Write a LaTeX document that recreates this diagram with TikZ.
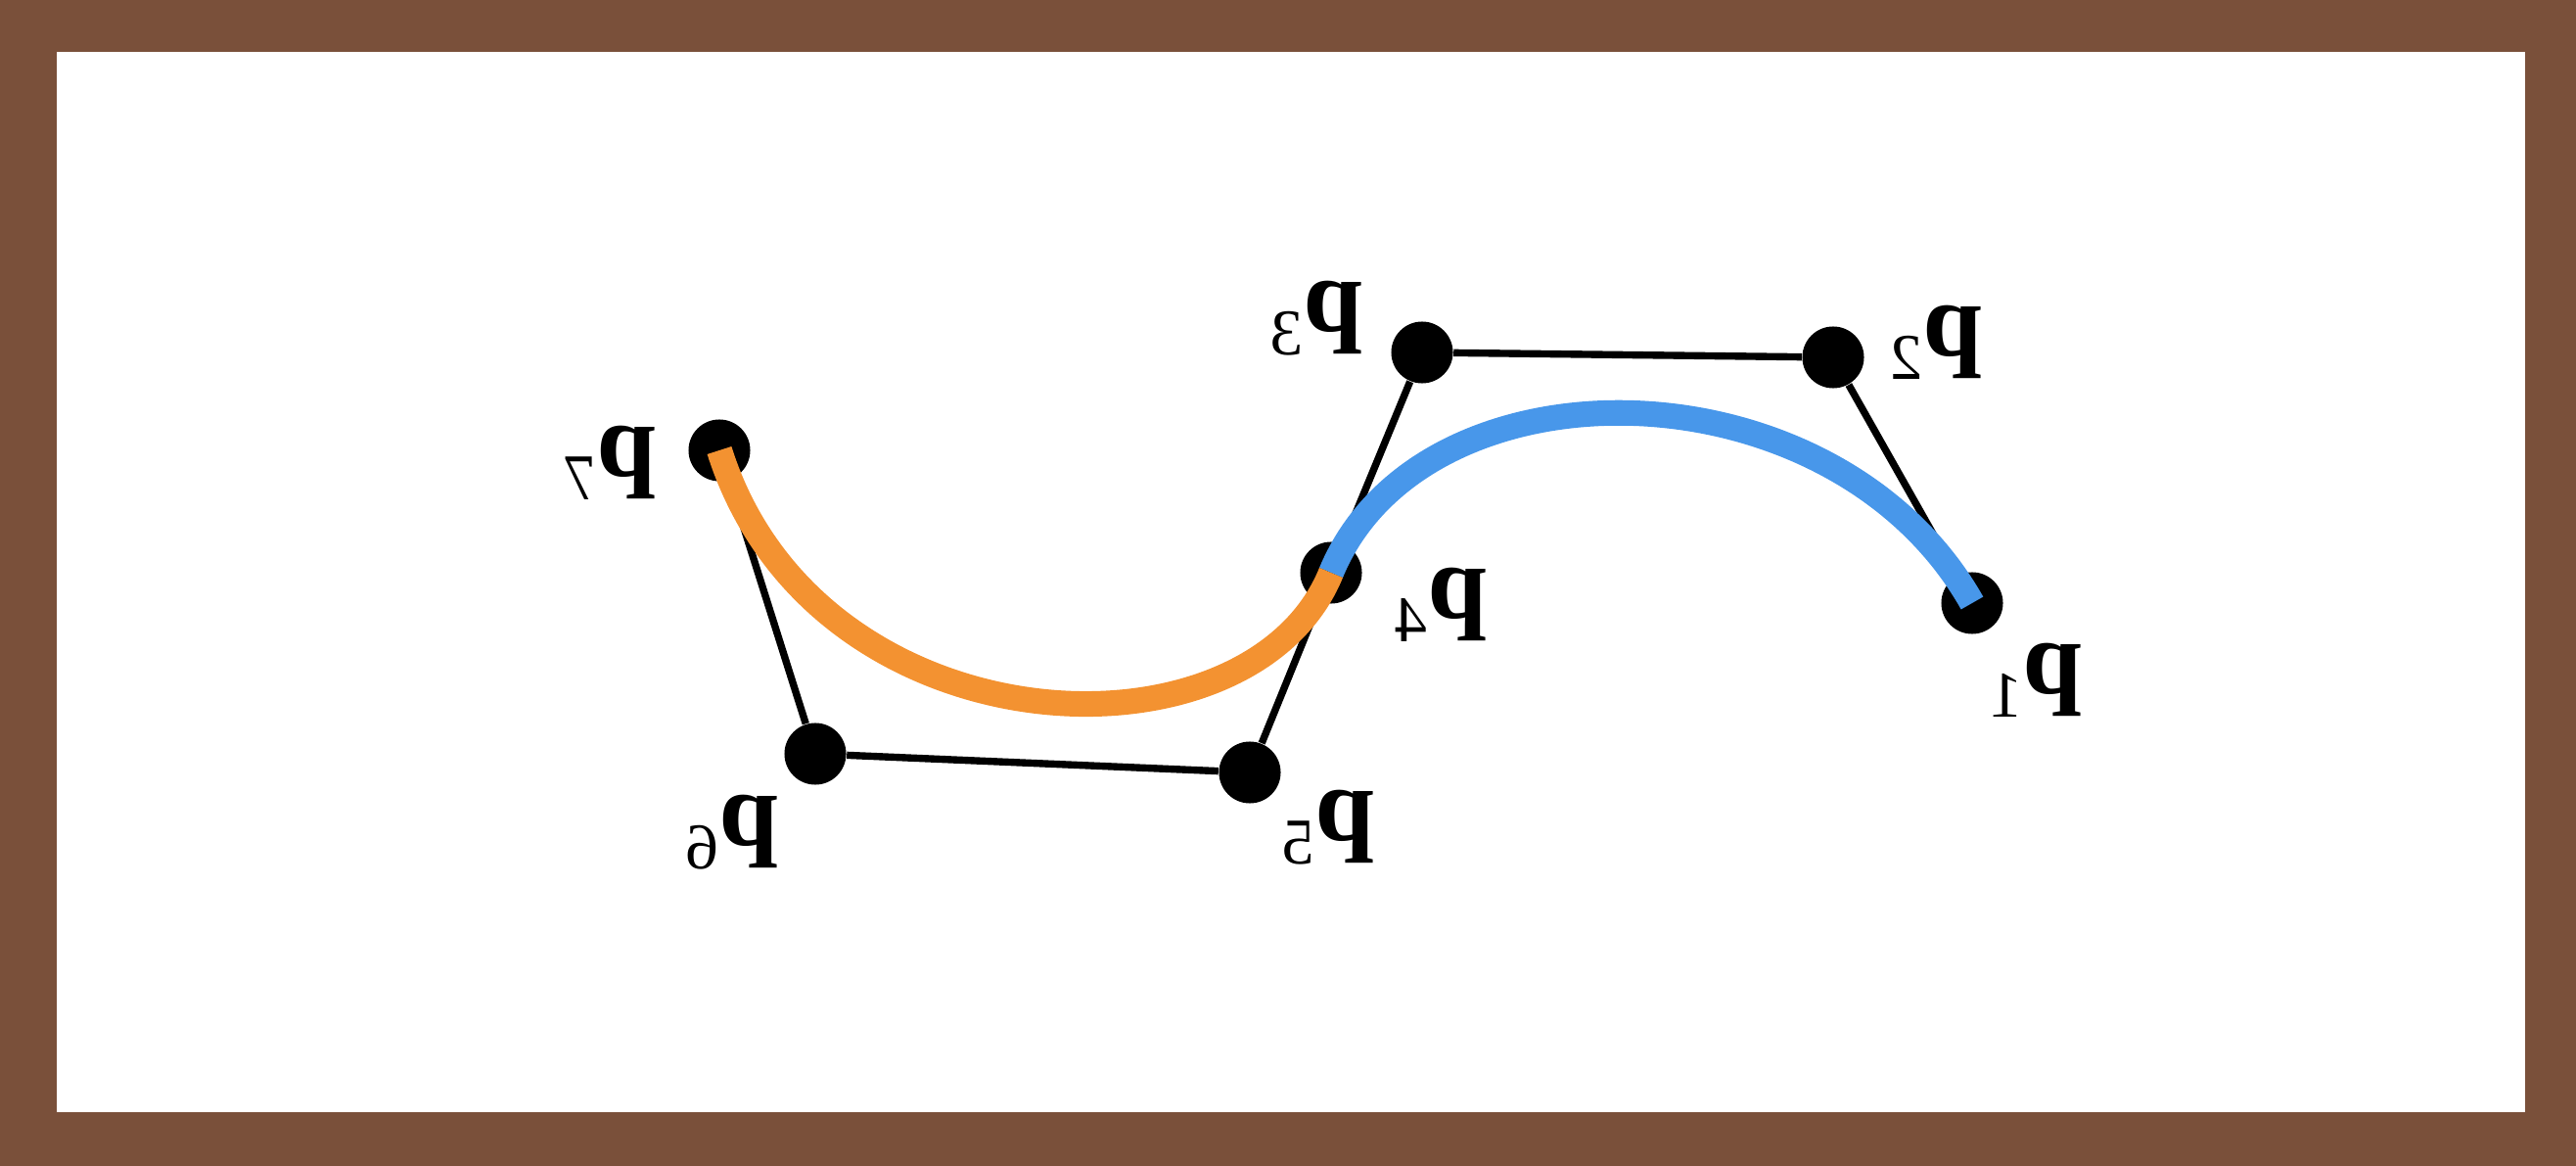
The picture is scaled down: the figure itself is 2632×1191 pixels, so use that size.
\documentclass[tikz,border=0pt]{standalone}
\usepackage{graphicx}
\usepackage{fontspec}
\setmainfont{Liberation Serif}
\definecolor{framebrown}{HTML}{7A503A}
\definecolor{curveblue}{HTML}{4897EA}
\definecolor{curveorange}{HTML}{F39231}
\newcommand{\plabel}[1]{\reflectbox{\fontsize{31}{36}\selectfont\bfseries p\raisebox{-7pt}{\fontsize{19}{19}\selectfont\mdseries #1}}}
\begin{document}
\begin{tikzpicture}[x=0.01cm,y=-0.01cm,
  dot/.style={circle,fill=black,inner sep=0pt,minimum size=0.63cm},
  poly/.style={draw=black,line width=2.1pt},
  curve/.style={line width=7.4pt,line cap=butt},
  lbl/.style={inner sep=0pt,anchor=center}]
\fill[framebrown] (0,0) rectangle (2632,1191);
\fill[white] (58,53) rectangle (2580,1136);
\useasboundingbox (0,0) rectangle (2632,1191);
% control points
\node[dot] (p1) at (2015,616) {};
\node[dot] (p2) at (1873,365) {};
\node[dot] (p3) at (1453,360) {};
\node[dot] (p4) at (1360,585) {};
\node[dot] (p5) at (1277,789) {};
\node[dot] (p6) at (833,770) {};
\node[dot] (p7) at (735,460) {};
% control polygon
\draw[poly] (p1) -- (p2);
\draw[poly] (p2) -- (p3);
\draw[poly] (p3) -- (p4);
\draw[poly] (p4) -- (p5);
\draw[poly] (p5) -- (p6);
\draw[poly] (p6) -- (p7);
% curves
\draw[curve,draw=curveblue] (p1.center) .. controls (p2.center) and (p3.center) .. (p4.center);
\draw[curve,draw=curveorange] (p4.center) .. controls (p5.center) and (p6.center) .. (p7.center);
% labels
\node[lbl] (l1) at (2080,695) {\plabel{1}};
\node[lbl] (l2) at (1978,350) {\plabel{2}};
\node[lbl] (l3) at (1345,325) {\plabel{3}};
\node[lbl] (l4) at (1472,618) {\plabel{4}};
\node[lbl] (l5) at (1357,845) {\plabel{5}};
\node[lbl] (l6) at (748,850) {\plabel{6}};
\node[lbl] (l7) at (623,473) {\plabel{7}};
\end{tikzpicture}
\end{document}
